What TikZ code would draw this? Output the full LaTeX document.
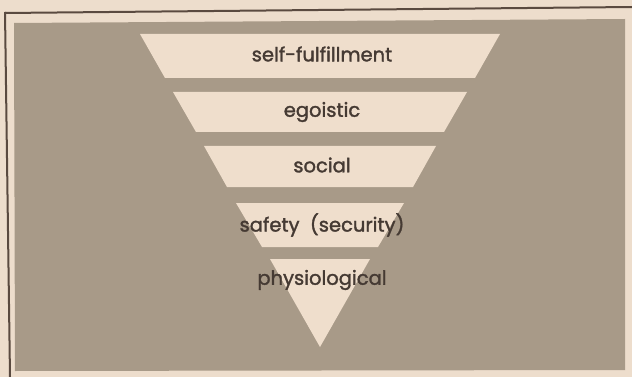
\documentclass[tikz,border=0pt]{standalone}
\usepackage{fontspec}
\setmainfont{Poppins}[FakeBold=1.6]
\definecolor{paper}{HTML}{EDDDCC}
\definecolor{panel}{HTML}{A89A88}
\definecolor{band}{HTML}{EFDECC}
\definecolor{ink}{HTML}{453A33}
\definecolor{rule}{HTML}{5A4A40}
\begin{document}
\begin{tikzpicture}[x=1pt,y=-1pt,
  lbl/.style={text=ink,font=\fontsize{19.5}{19.5}\selectfont,inner sep=0pt,anchor=center},
  bandfill/.style={fill=band,draw=none}]
\fill[paper] (0,0) rectangle (632,377);
\useasboundingbox (0,0) rectangle (632,377);
% frame lines
\draw[rule,line width=2pt] (5,13) -- (632,7);
\draw[rule,line width=2pt] (5,12) -- (10,377);
% grey panel
\fill[panel] (14,23) -- (625,19) -- (625,370) -- (15,371) -- cycle;
% bands of the inverted pyramid (apex at (320,347), half-width = 0.575*(347-y))
\fill[bandfill] (140,34) -- (500,34) -- (475,78) -- (165,78) -- cycle;
\fill[bandfill] (173,92) -- (467,92) -- (444,132) -- (196,132) -- cycle;
\fill[bandfill] (204,146) -- (436,146) -- (413,187) -- (227,187) -- cycle;
\fill[bandfill] (236,203) -- (404,203) -- (378,247) -- (262,247) -- cycle;
\fill[bandfill] (270,259) -- (370,259) -- (320,347) -- cycle;
\node[lbl] (t1) at (322,54) {self-fulfillment};
\node[lbl] (t2) at (322,112) {egoistic};
\node[lbl] (t3) at (322,165) {social};
\node[lbl] (t4) at (322,225) {safety\ \ (security)};
\node[lbl] (t5) at (322,280) {physiological};
\end{tikzpicture}
\end{document}
